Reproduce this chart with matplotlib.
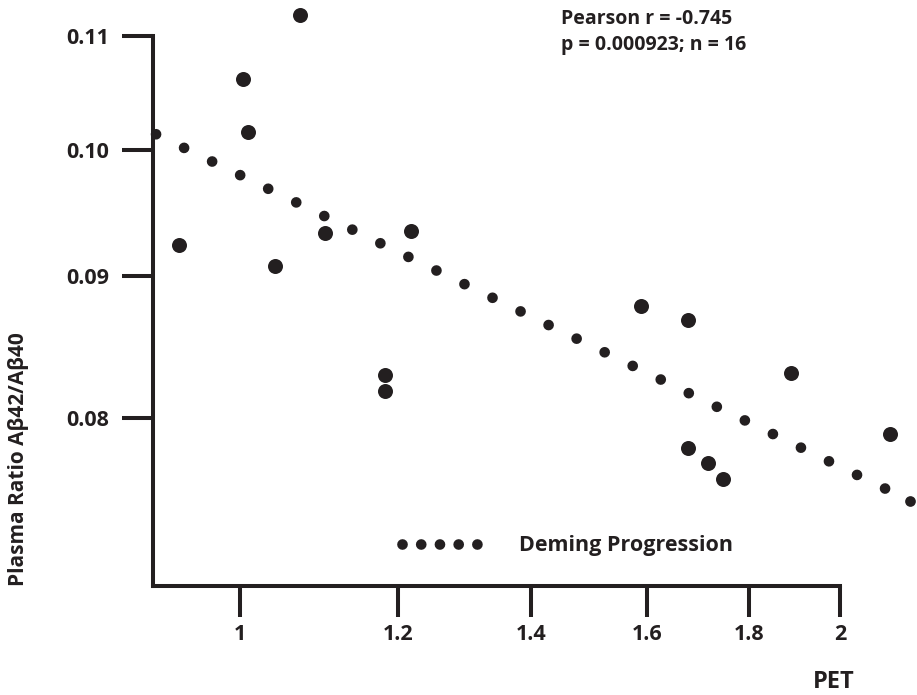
import matplotlib
matplotlib.use("Agg")
import matplotlib.pyplot as plt
from matplotlib.lines import Line2D
from matplotlib.ticker import NullLocator, FixedLocator, FixedFormatter

plt.rcParams['font.family'] = ['Open Sans', 'DejaVu Sans']
plt.rcParams['font.weight'] = 'bold'

# ---- data ----
pet = [1.0714, 1.0031, 1.0089, 0.9316, 1.0413, 1.1036, 1.2180, 1.1819,
       1.1819, 1.5886, 1.6779, 1.6779, 1.7165, 1.7471, 1.8905, 2.1181]
ratio = [0.1119, 0.1061, 0.1015, 0.0924, 0.0908, 0.0933, 0.0935, 0.0829,
         0.0818, 0.0878, 0.0868, 0.0780, 0.0770, 0.0760, 0.0830, 0.0789]

deming_x = [0.9075, 2.1677]
deming_y = [0.10133, 0.07465]

xticks = [1, 1.2, 1.4, 1.6, 1.8, 2]
xtick_labels = ['1', '1.2', '1.4', '1.6', '1.8', '2']
yticks = [0.08, 0.09, 0.10, 0.11]
ytick_labels = ['0.08', '0.09', '0.10', '0.11']

ink = '#231f20'
W, H = 917, 695
fs_tick = 15.5
fs_leg = 15.5
fs_stat = 14
fs_ylab = 15
fs_xlab = 17

fig = plt.figure(figsize=(W / 100, H / 100), dpi=100)
left_px, bottom_px = 152.7, 585.7
ax = fig.add_axes([left_px / W, (H - bottom_px) / H, (W - left_px) / W, bottom_px / H])
ax.set_xscale('log')
ax.set_yscale('log')
ax.set_xlim(0.904, 2.186)
ax.set_ylim(0.06953, 0.11334)

# Deming regression line (dotted)
ax.plot(deming_x, deming_y, color=ink, lw=7.7, ls=(0, (0.001, 2.914)),
        dash_capstyle='round', marker='o', ms=7.7, markevery=[1],
        mec='none', clip_on=False, zorder=3)
# data points
ax.plot(pet, ratio, 'o', color=ink, ms=10.8, mec='none', clip_on=False, zorder=4)

for s in ['top', 'right']:
    ax.spines[s].set_visible(False)
for s in ['left', 'bottom']:
    ax.spines[s].set_linewidth(2.9)
    ax.spines[s].set_color(ink)
    ax.spines[s].set_capstyle('projecting')
ax.spines['left'].set_bounds(0.06953, 0.11)
ax.spines['bottom'].set_bounds(0.904, 2)

ax.xaxis.set_major_locator(FixedLocator(xticks))
ax.xaxis.set_major_formatter(FixedFormatter(xtick_labels))
ax.yaxis.set_major_locator(FixedLocator(yticks))
ax.yaxis.set_major_formatter(FixedFormatter(ytick_labels))
ax.xaxis.set_minor_locator(NullLocator())
ax.yaxis.set_minor_locator(NullLocator())
ax.tick_params(axis='both', which='major', length=22.5, width=2.9, color=ink,
               labelsize=fs_tick, labelcolor=ink)
ax.tick_params(axis='y', pad=9)
ax.tick_params(axis='x', pad=5)
for lab in ax.get_xticklabels() + ax.get_yticklabels():
    lab.set_fontweight('bold')

fig.text(18.5 / W, 1 - 459 / H, 'Plasma Ratio Aβ42/Aβ40', rotation=90,
         ha='center', va='center', fontsize=fs_ylab, fontweight='bold', color=ink)
fig.text(833.7 / W, 1 - 681.5 / H, 'PET', ha='center', va='center',
         fontsize=fs_xlab, fontweight='bold', color=ink)
fig.text(561 / W, 1 - 24 / H, 'Pearson r = -0.745', ha='left', va='baseline',
         fontsize=fs_stat, fontweight='bold', color=ink)
fig.text(561 / W, 1 - 50 / H, 'p = 0.000923; n = 16', ha='left', va='baseline',
         fontsize=fs_stat, fontweight='bold', color=ink)

handle = Line2D([], [], color=ink, lw=7.7, ls=(0, (0.001, 1.75)),
                dash_capstyle='round')
fs_px = fs_leg * 100 / 72
leg = ax.legend([handle], ['Deming Progression'], frameon=False,
                loc='center left', bbox_to_anchor=(401.7 / W, 1 - 546 / H),
                bbox_transform=fig.transFigure, borderpad=0, borderaxespad=0,
                handlelength=76 / fs_px, handletextpad=41.6 / fs_px,
                prop={'size': fs_leg, 'weight': 'bold'})
for t in leg.get_texts():
    t.set_color(ink)

fig.savefig('out.png', dpi=100)
